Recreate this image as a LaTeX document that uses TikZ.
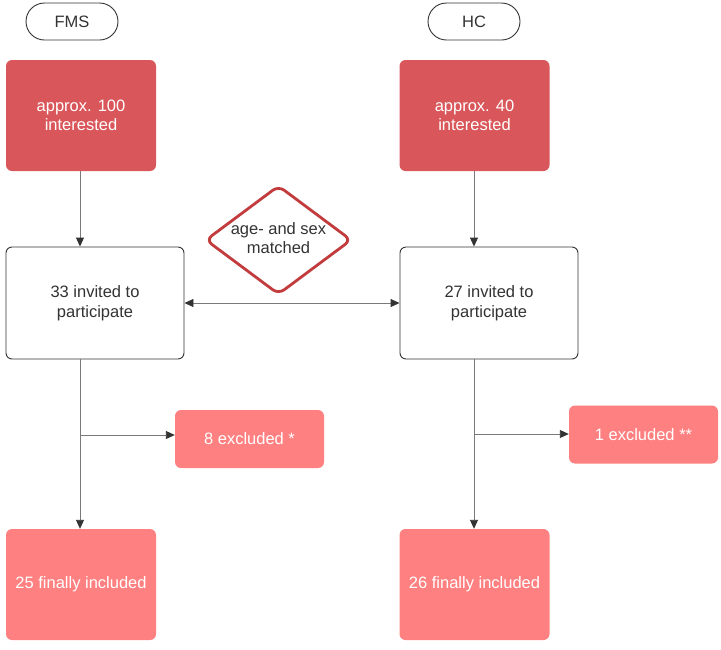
\documentclass[tikz,border=0pt]{standalone}
\usepackage{fontspec}
\setmainfont{Liberation Sans}
\usetikzlibrary{shapes.geometric,shapes.misc,arrows.meta}
\definecolor{darkred}{HTML}{D9575A}
\definecolor{lightred}{HTML}{FF8080}
\definecolor{diamondred}{HTML}{C23B3D}
\definecolor{txt}{HTML}{333333}
\definecolor{linegray}{HTML}{7A7A7A}
\begin{document}
\begin{tikzpicture}[x=1pt,y=-1pt,
  every node/.style={font=\fontsize{16.5}{19.5}\selectfont, align=center, inner sep=0pt},
  pill/.style={rounded rectangle, draw=txt, line width=0.9pt, text=txt, minimum width=92, minimum height=37},
  topbox/.style={rectangle, rounded corners=6, fill=darkred, text=white, minimum width=150, minimum height=111},
  midbox/.style={rectangle, rounded corners=6, draw=txt, line width=0.9pt, fill=white, text=txt, minimum width=178, minimum height=112},
  exbox/.style={rectangle, rounded corners=6, fill=lightred, text=white, minimum width=149, minimum height=58},
  botbox/.style={rectangle, rounded corners=6, fill=lightred, text=white, minimum width=150, minimum height=111},
  matchtext/.style={text=txt},
  conn/.style={draw=linegray, line width=0.9pt},
  arr/.style={conn, -{Triangle[length=9pt,width=8pt,fill=txt,color=txt]}},
  darr/.style={conn, {Triangle[length=9pt,width=8pt,fill=txt,color=txt]}-{Triangle[length=9pt,width=8pt,fill=txt,color=txt]}}
]
\useasboundingbox (0,0) rectangle (721,649);

\node[pill] (fms) at (72,21.5) {FMS};
\node[pill] (hc) at (474,21.5) {HC};

\node[topbox] (fint) at (81,115.5) {approx. 100\\interested};
\node[topbox] (hint) at (474.5,115.5) {approx. 40\\interested};

\node[midbox] (finv) at (95,303) {33 invited to\\participate};
\node[midbox] (hinv) at (489,303) {27 invited to\\participate};

\draw[diamondred, line width=2.8pt, rounded corners=7, line join=round]
  (278.5,186) -- (351,240) -- (278.5,294) -- (206,240) -- cycle;
\node[matchtext] (match) at (278.5,238) {age- and sex\\matched};

\node[exbox] (fex) at (249.5,439) {8 excluded *};
\node[exbox] (hex) at (643.5,434.5) {1 excluded **};

\node[botbox] (finc) at (81,584.5) {25 finally included};
\node[botbox] (hinc) at (474.5,584.5) {26 finally included};

\coordinate (fb) at (80,435);
\coordinate (hb) at (474,434);

\draw[arr] (fint.south -| fb) -- (finv.north -| fb);
\draw[arr] (hint.south -| hb) -- (hinv.north -| hb);
\draw[darr] (finv.east) -- (hinv.west);
\draw[arr] (finv.south -| fb) -- (finc.north -| fb);
\draw[arr] (hinv.south -| hb) -- (hinc.north -| hb);
\draw[arr] (fb) -- (fb -| fex.west);
\draw[arr] (hb) -- (hb -| hex.west);
\end{tikzpicture}
\end{document}
